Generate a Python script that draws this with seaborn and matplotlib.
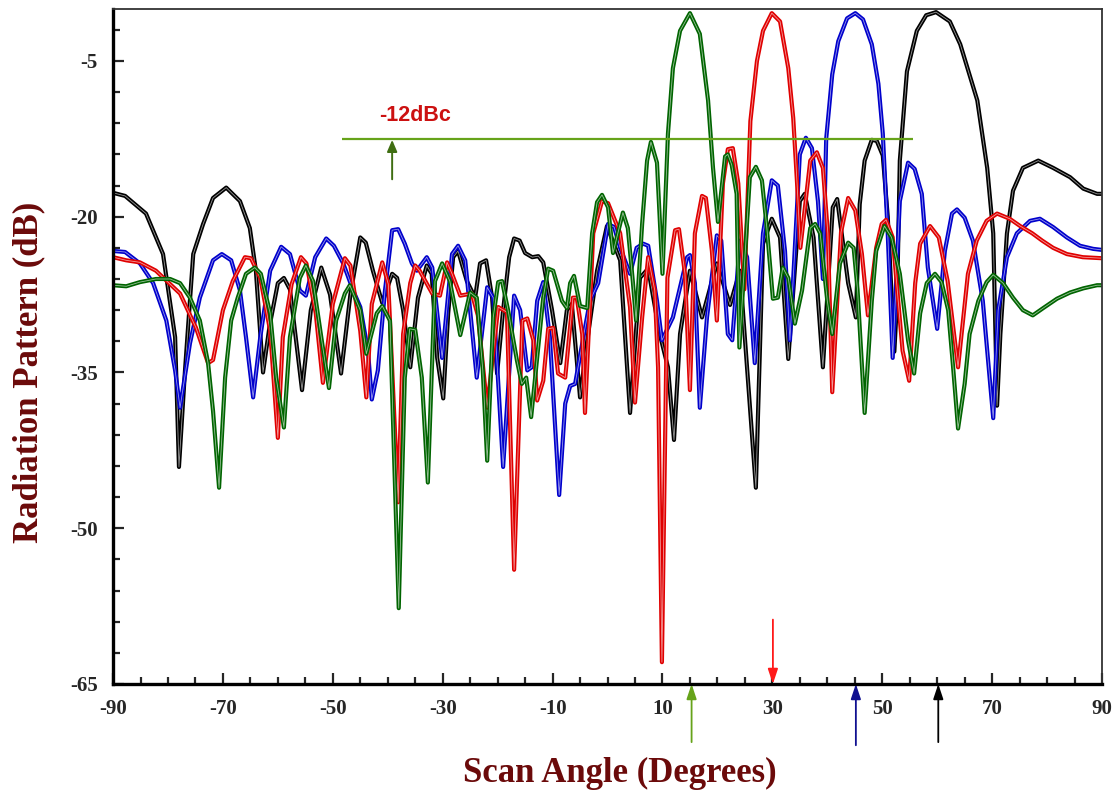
import numpy as np
import pandas as pd
import seaborn as sns
import matplotlib
matplotlib.use('Agg')
import matplotlib.pyplot as plt
import matplotlib.patheffects as pe

# beam scanned to 60 deg (black)
ang_60 = [-90, -87.8, -84.0, -80.9, -78.7, -78.0, -76.9, -75.4, -73.6, -71.8, -69.4, -66.9, -65.1, -64.0, -62.7,
          -61.5, -60.0, -58.9, -57.8, -55.6, -54.0, -52.1, -50.5, -48.5, -46.8, -45.0, -44.0, -42.7, -41.0, -39.2,
          -38.3, -37.2, -35.9, -34.5, -32.9, -32.0, -31.0, -29.9, -29.0, -28.1, -27.2, -25.6, -24.1, -23.2, -22.1,
          -21.0, -20.1, -19.0, -17.9, -17.0, -16.0, -15.0, -13.7, -12.6, -11.7, -10.1, -8.6, -7.4, -6.5, -5.0,
          -3.6, -1.9, -0.1, 2.3, 4.1, 5.9, 7.4, 9.5, 11.0, 12.1, 13.2, 15.0, 17.2, 19.9, 22.3, 24.1, 27.0, 28.3,
          29.9, 31.4, 32.9, 35.0, 35.9, 37.5, 39.2, 41.0, 41.8, 43.8, 45.2, 45.9, 46.8, 48.1, 49.0, 50.1, 51.0,
          52.2, 52.7, 53.2, 54.5, 56.3, 58.0, 59.8, 62.3, 64.2, 67.3, 69.1, 70.2, 70.9, 71.5, 72.7, 73.8, 75.6,
          78.4, 81.1, 84.2, 86.6, 89.1, 90]
db_60 = [-17.7, -18.0, -19.7, -23.6, -31.6, -44.1, -34.8, -23.6, -20.7, -18.2, -17.2, -18.5, -21.1, -25.2, -35.0,
         -30.5, -26.4, -25.9, -27.0, -36.7, -29.0, -24.9, -27.5, -35.1, -27.5, -22.0, -22.5, -25.2, -28.3, -25.5,
         -25.9, -29.0, -34.5, -27.8, -24.7, -25.5, -33.6, -37.5, -29.3, -23.9, -23.3, -26.2, -27.8, -24.5, -24.2,
         -27.8, -35.1, -29.0, -23.9, -22.1, -22.3, -23.5, -23.9, -23.8, -24.4, -29.0, -34.1, -29.0, -28.4, -37.4,
         -31.6, -25.2, -20.9, -24.2, -38.9, -25.9, -25.0, -31.3, -34.5, -41.5, -31.3, -25.2, -29.7, -24.5, -28.5,
         -25.2, -46.1, -22.6, -20.2, -22.0, -33.7, -18.5, -17.8, -22.0, -34.5, -19.1, -18.3, -26.4, -29.7, -18.8,
         -14.6, -12.6, -12.7, -14.1, -20.0, -33.0, -28.0, -14.6, -6.0, -2.1, -0.6, -0.3, -1.2, -3.4, -8.8, -15.3,
         -21.6, -38.2, -31.3, -21.6, -17.5, -15.3, -14.6, -15.3, -16.2, -17.3, -17.8, -17.8]

# beam scanned to 45 deg (blue)
ang_45 = [-90, -87.8, -85.1, -82.7, -80.3, -78.7, -77.8, -76.0, -74.2, -71.8, -70.2, -68.5, -66.9, -65.8, -64.5,
          -63.2, -61.4, -59.4, -57.8, -56.0, -54.9, -53.2, -51.2, -49.8, -48.1, -46.3, -45.0, -43.6, -42.9, -41.8,
          -40.5, -39.2, -38.1, -36.9, -35.6, -34.7, -32.9, -31.9, -30.1, -28.3, -27.2, -25.9, -23.8, -21.9, -20.8,
          -19.0, -17.0, -15.9, -14.6, -13.8, -12.8, -11.7, -10.5, -8.8, -7.7, -6.8, -5.9, -4.6, -3.2, -1.7, 0.1,
          1.2, 2.3, 4.1, 5.3, 6.5, 7.4, 9.0, 9.9, 11.9, 14.5, 15.0, 15.9, 16.8, 18.1, 19.9, 20.7, 21.9, 22.7,
          24.1, 25.4, 26.8, 28.3, 29.9, 31.0, 32.3, 33.2, 35.0, 36.1, 37.2, 38.3, 39.2, 39.8, 40.9, 42.0, 43.6,
          45.1, 46.5, 48.1, 49.3, 50.1, 51.0, 51.9, 53.2, 54.7, 55.9, 57.2, 58.3, 60.0, 61.4, 62.7, 63.6, 65.0,
          66.5, 68.3, 70.2, 71.1, 72.7, 74.5, 76.9, 78.7, 81.1, 83.6, 86.0, 88.4, 90]
db_45 = [-23.3, -23.4, -24.5, -26.4, -30.0, -34.8, -38.4, -32.2, -27.8, -24.2, -23.6, -24.2, -27.1, -31.6, -37.4,
         -31.6, -25.2, -22.9, -23.6, -27.1, -27.6, -23.9, -22.1, -22.8, -24.5, -27.1, -28.7, -32.9, -37.6, -34.8,
         -27.1, -21.3, -21.2, -22.6, -24.5, -25.2, -23.9, -24.9, -33.6, -23.6, -22.8, -24.2, -35.5, -26.8, -27.8,
         -44.1, -27.6, -29.0, -34.8, -34.5, -28.1, -26.3, -31.6, -46.8, -38.0, -36.3, -36.1, -32.2, -28.1, -26.4,
         -20.7, -21.0, -23.0, -25.5, -23.0, -22.6, -22.8, -28.1, -31.9, -29.7, -23.9, -23.7, -26.4, -38.4, -29.7,
         -21.8, -22.3, -31.3, -31.9, -22.3, -23.9, -34.1, -21.6, -16.5, -17.0, -23.3, -31.9, -14.0, -12.4, -13.4,
         -18.5, -26.0, -12.5, -6.3, -3.1, -0.9, -0.4, -1.0, -3.4, -7.2, -12.0, -21.6, -33.6, -18.5, -14.8, -15.4,
         -17.8, -24.9, -30.8, -23.3, -19.7, -19.3, -20.1, -22.3, -28.1, -39.4, -29.0, -23.9, -21.6, -20.4, -20.2,
         -21.0, -22.0, -22.8, -23.1, -23.2]

# beam scanned to 30 deg (red)
ang_30 = [-90, -87.6, -85.1, -82.2, -77.8, -74.9, -72.7, -71.8, -70.0, -68.2, -66.0, -64.9, -63.2, -61.4, -60.0,
          -59.1, -57.5, -55.8, -54.8, -53.1, -51.8, -50.0, -47.8, -46.8, -45.0, -43.9, -42.9, -41.0, -39.9, -38.1,
          -37.2, -35.9, -35.0, -34.2, -31.9, -30.5, -29.2, -28.3, -26.8, -24.7, -23.6, -21.9, -19.9, -18.3, -17.0,
          -15.5, -14.6, -13.5, -12.8, -11.7, -10.8, -9.9, -9.0, -7.7, -6.3, -5.6, -4.6, -4.1, -2.6, -1.0, 0.1,
          2.3, 4.1, 5.0, 6.3, 7.4, 8.6, 9.2, 9.9, 10.9, 12.3, 13.0, 14.1, 15.0, 15.9, 17.2, 17.9, 19.0, 19.9,
          21.0, 21.9, 22.8, 23.8, 24.9, 26.0, 27.2, 28.3, 29.9, 31.4, 32.9, 33.8, 34.5, 35.1, 36.9, 38.1, 39.2,
          40.1, 40.9, 42.5, 43.8, 45.1, 46.3, 47.4, 48.9, 49.9, 50.7, 51.9, 53.7, 54.9, 56.0, 56.9, 58.7, 60.3,
          61.9, 63.8, 65.6, 67.2, 69.0, 70.9, 73.2, 75.1, 77.3, 79.1, 81.1, 83.6, 86.5, 90]
db_30 = [-23.9, -24.2, -24.4, -25.2, -27.4, -30.7, -34.1, -33.8, -29.0, -26.2, -23.9, -24.0, -25.9, -31.0, -41.3,
         -31.6, -26.5, -23.9, -24.5, -29.3, -36.0, -28.4, -24.0, -24.7, -31.0, -37.4, -28.4, -24.4, -26.5, -47.5,
         -31.3, -26.4, -24.7, -25.2, -27.4, -27.6, -24.4, -25.5, -27.6, -27.4, -29.5, -38.4, -28.7, -29.2, -54.0,
         -30.0, -29.8, -31.9, -37.7, -35.8, -30.8, -30.7, -35.1, -35.5, -27.8, -27.8, -31.3, -38.9, -21.6, -18.5,
         -18.7, -21.6, -28.7, -37.9, -29.7, -23.9, -27.1, -34.5, -62.9, -25.9, -21.3, -21.2, -25.5, -36.7, -21.6,
         -18.0, -18.2, -23.3, -30.0, -16.8, -13.5, -13.4, -16.8, -27.0, -10.8, -5.0, -2.1, -0.4, -1.2, -5.7,
         -10.5, -16.8, -23.0, -14.6, -13.8, -15.3, -21.6, -36.9, -21.5, -18.2, -19.4, -23.6, -29.5, -23.0, -20.7,
         -20.3, -22.0, -32.9, -35.8, -26.4, -22.6, -20.9, -22.0, -26.2, -34.5, -25.5, -22.3, -20.4, -19.7, -20.2,
         -20.9, -21.6, -22.3, -23.0, -23.6, -23.9, -24.0]

# beam scanned to 15 deg (green)
ang_15 = [-90, -87.6, -85.1, -82.2, -79.6, -77.8, -76.0, -74.2, -72.7, -71.8, -70.7, -69.6, -68.5, -67.3, -65.8,
          -64.2, -63.1, -61.4, -60.3, -58.9, -57.8, -56.0, -54.9, -53.6, -52.1, -50.7, -49.4, -47.8, -46.9, -45.0,
          -43.9, -42.0, -41.0, -39.6, -38.0, -36.9, -36.0, -35.0, -33.8, -32.7, -31.4, -30.1, -28.7, -26.8, -25.0,
          -23.8, -22.7, -21.9, -20.8, -19.9, -19.2, -18.1, -16.5, -15.6, -14.8, -13.9, -12.8, -11.7, -10.8, -9.9,
          -8.3, -7.4, -6.8, -6.1, -5.0, -3.7, -2.8, -1.9, -1.0, 0.1, 1.0, 2.8, 3.7, 4.6, 5.2, 6.3, 7.2, 7.9, 9.0,
          10.0, 11.0, 11.9, 13.2, 15.0, 16.8, 18.3, 19.2, 20.1, 21.4, 21.9, 22.6, 23.5, 24.0, 25.9, 27.0, 28.1,
          29.0, 30.1, 31.0, 31.9, 32.9, 34.1, 35.4, 36.9, 37.8, 38.7, 40.0, 40.9, 42.3, 43.8, 44.8, 45.5, 46.8,
          48.1, 48.9, 50.4, 51.7, 53.2, 54.7, 55.8, 56.9, 58.1, 59.6, 60.8, 62.0, 62.9, 63.8, 65.0, 65.9, 67.5,
          69.0, 70.2, 72.0, 73.8, 75.6, 77.4, 79.3, 81.8, 84.2, 86.6, 89.1, 90]
db_15 = [-26.6, -26.7, -26.3, -26.0, -26.0, -26.4, -27.8, -30.0, -34.1, -38.7, -46.1, -35.5, -30.0, -27.8, -25.5,
         -24.9, -25.5, -29.3, -35.5, -40.3, -31.6, -25.9, -24.7, -26.2, -31.6, -36.5, -30.0, -27.4, -26.6, -29.0,
         -33.2, -29.3, -28.6, -30.0, -57.7, -35.5, -30.8, -30.9, -35.5, -45.6, -26.2, -24.5, -26.2, -31.4, -27.3,
         -27.8, -34.8, -43.5, -29.7, -26.3, -26.2, -29.0, -33.8, -36.1, -35.5, -39.3, -33.6, -27.8, -25.0, -25.2,
         -28.1, -28.8, -26.4, -25.7, -28.6, -28.8, -21.6, -18.6, -17.9, -19.1, -23.5, -19.6, -21.1, -26.2, -30.0,
         -20.7, -14.6, -12.8, -14.8, -25.5, -12.0, -5.7, -2.1, -0.4, -2.4, -8.8, -15.3, -20.5, -14.2, -14.0,
         -15.0, -17.8, -32.6, -16.2, -15.2, -16.5, -21.1, -27.9, -27.8, -24.9, -25.9, -30.3, -27.1, -21.1, -20.7,
         -21.6, -28.1, -31.3, -24.5, -22.5, -23.0, -27.0, -38.9, -28.1, -23.3, -20.9, -22.0, -25.5, -31.9, -35.1,
         -29.3, -26.4, -25.5, -26.3, -29.0, -34.5, -40.4, -36.1, -31.3, -28.1, -26.3, -25.6, -26.4, -27.8, -29.0,
         -29.5, -28.8, -27.9, -27.3, -26.9, -26.6, -26.6]

scan_order = ['60', '45', '30', '15']
colors = {'60': '#000000', '45': '#0000cc', '30': '#e00000', '15': '#006400'}

df = pd.concat([
    pd.DataFrame({'angle': ang_60, 'dB': db_60, 'scan': '60'}),
    pd.DataFrame({'angle': ang_45, 'dB': db_45, 'scan': '45'}),
    pd.DataFrame({'angle': ang_30, 'dB': db_30, 'scan': '30'}),
    pd.DataFrame({'angle': ang_15, 'dB': db_15, 'scan': '15'}),
])

sns.set_style('ticks')
plt.rcParams['font.family'] = ['Liberation Serif', 'DejaVu Serif']
plt.rcParams['axes.unicode_minus'] = False

fig = plt.figure(figsize=(11.18, 7.9), dpi=100)
ax = fig.add_axes([0.1011, 0.1342, 0.8846, 0.8544])

sns.lineplot(data=df, x='angle', y='dB', hue='scan', hue_order=scan_order, palette=colors,
             estimator=None, sort=False, legend=False, ax=ax)

# double-line look: coloured stroke with a light core
for line in ax.lines:
    c = line.get_color()
    line.set_path_effects([pe.Stroke(linewidth=3.0, foreground=c, joinstyle='round'), pe.Normal()])
    line.set_color((1, 1, 1, 0.6))
    line.set_linewidth(0.6)

ax.set_xlim(-90, 90)
ax.set_ylim(-65, 0)
ax.set_xticks(np.arange(-90, 91, 20))
ax.set_xticks(np.arange(-90, 91, 5), minor=True)
ax.set_yticks([-65, -50, -35, -20, -5])
ax.set_yticks(np.arange(-65, 0, 3), minor=True)
ax.tick_params(which='both', direction='in', top=False, right=False, width=1.6, pad=11)
ax.tick_params(which='major', length=8)
ax.tick_params(which='minor', length=5)
for lab in ax.get_xticklabels() + ax.get_yticklabels():
    lab.set_fontweight('bold')
    lab.set_fontsize(15)
ax.set_xlabel('')
ax.set_ylabel('')

for s in ['left', 'bottom']:
    ax.spines[s].set_linewidth(2.4)
    ax.spines[s].set_color('black')
for s in ['top', 'right']:
    ax.spines[s].set_linewidth(1.3)
    ax.spines[s].set_color('#333333')

# -12 dBc marker
ax.hlines(-12.5, -48.3, 55.6, color='#66a31a', lw=1.6, zorder=5)
ax.annotate('', xy=(-39.2, -12.6), xytext=(-39.2, -16.4),
            arrowprops=dict(arrowstyle='-|>,head_length=0.7,head_width=0.3', color='#3f6e12',
                            lw=1.4, mutation_scale=10, shrinkA=0, shrinkB=0))
ax.text(-41.6, -10.3, '-12dBc', color='#cc1111', fontsize=15.5, fontweight='bold',
        family=['Liberation Sans', 'DejaVu Sans'], ha='left', va='center')

# scan direction arrows under the axis
arrows = [(15.3, -70.6, -65, '#66a31a'), (45.2, -70.9, -65, '#101090'),
          (60.2, -70.6, -65, '#000000'), (30.1, -58.8, -65, '#ff1a1a')]
for xa, y0, y1, c in arrows:
    ax.annotate('', xy=(xa, y1), xytext=(xa, y0), annotation_clip=False,
                arrowprops=dict(arrowstyle='-|>,head_length=0.9,head_width=0.3', color=c,
                                lw=1.3, mutation_scale=10, shrinkA=0, shrinkB=0))

fig.text(0.5546, 0.0215, 'Scan Angle (Degrees)', color='#6b0a0a', fontsize=25,
         fontweight='bold', ha='center', va='center')
fig.text(0.026, 0.529, 'Radiation Pattern (dB)', color='#6b0a0a', fontsize=25,
         fontweight='bold', ha='center', va='center', rotation=90)

fig.savefig('out.png', dpi=100)
